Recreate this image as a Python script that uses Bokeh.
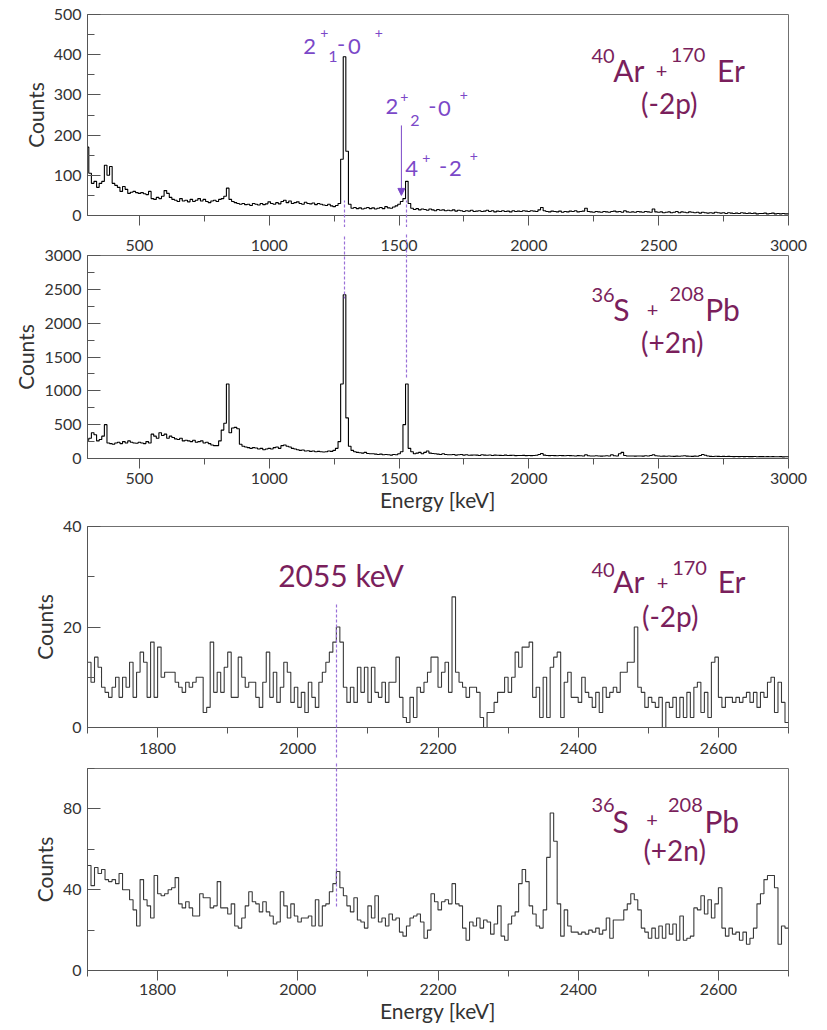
import numpy as np
from bokeh.plotting import figure
from bokeh.models import Range1d, FixedTicker, Label, Arrow, NormalHead, LinearAxis
from bokeh.layouts import column
from bokeh.embed import file_html
from bokeh.resources import INLINE

FONT = "Lato"
LEVEL_COLOR = "#7b48c8"
REACTION_COLOR = "#7a1f5c"
DASH_COLOR = "#9a70d8"
AXIS_COLOR = "#555555"
TEXT_COLOR = "#333333"
TICK_FONT = "16px"

# ---------------- data ----------------
# overview spectra: 10 keV bins, bin centres 300 ... 3000 keV
overview_first_centre = 300
overview_bin_width = 10
ar_er_overview = [
    170, 105, 80, 85, 70, 80, 85, 125, 100, 122,
    80, 75, 70, 60, 72, 65, 55, 58, 60, 57,
    55, 57, 54, 52, 60, 42, 40, 45, 42, 48,
    62, 55, 45, 40, 38, 35, 42, 36, 38, 34,
    40, 35, 38, 42, 36, 40, 35, 32, 36, 38,
    35, 40, 42, 48, 68, 40, 35, 32, 30, 28,
    30, 27, 28, 25, 30, 28, 26, 30, 27, 29,
    34, 30, 28, 32, 29, 35, 38, 32, 36, 30,
    32, 34, 30, 28, 33, 30, 29, 31, 27, 30,
    28, 26, 25, 28, 24, 22, 25, 30, 140, 395,
    160, 28, 18, 20, 17, 19, 16, 18, 20, 17,
    19, 16, 18, 20, 17, 22, 19, 18, 21, 24,
    28, 35, 42, 85, 30, 18, 15, 17, 14, 16,
    15, 13, 16, 14, 12, 15, 13, 14, 12, 13,
    12, 14, 11, 13, 12, 10, 12, 11, 13, 10,
    11, 12, 10, 11, 13, 10, 12, 9, 11, 10,
    12, 10, 11, 9, 12, 10, 11, 10, 12, 11,
    10, 12, 11, 10, 14, 20, 12, 10, 9, 11,
    10, 9, 11, 8, 10, 9, 11, 10, 12, 9,
    10, 11, 18, 10, 9, 8, 10, 9, 8, 10,
    9, 8, 10, 11, 9, 10, 8, 12, 9, 8,
    9, 8, 10, 9, 8, 10, 9, 8, 16, 9,
    8, 9, 7, 8, 9, 7, 8, 10, 7, 9,
    8, 7, 9, 8, 7, 8, 6, 8, 7, 6,
    7, 6, 8, 7, 6, 7, 5, 7, 6, 5,
    6, 5, 7, 6, 5, 6, 5, 6, 4, 5,
    5, 6, 4, 5, 6, 4, 5, 4, 5, 4,
    4,
]
s_pb_overview = [
    270, 300, 380, 350, 260, 280, 330, 500, 230, 220,
    210, 230, 240, 220, 250, 230, 260, 240, 230, 225,
    240, 230, 220, 250, 230, 360, 330, 300, 380, 340,
    360, 300, 330, 310, 290, 280, 300, 260, 270, 260,
    250, 270, 240, 250, 260, 230, 240, 220, 200, 190,
    190, 260, 420, 520, 1100, 380, 450, 460, 440, 210,
    180, 170, 160, 150, 160, 155, 140, 150, 130, 140,
    150, 140, 160, 170, 150, 190, 200, 180, 170, 150,
    140, 130, 120, 125, 110, 115, 105, 110, 100, 105,
    100, 95, 100, 110, 105, 120, 150, 250, 1100, 2420,
    600, 180, 120, 100, 90, 85, 80, 90, 75, 70,
    70, 65, 60, 65, 55, 60, 55, 50, 60, 55,
    70, 100, 500, 1100, 150, 100, 70, 80, 90, 70,
    90, 110, 80, 75, 70, 65, 60, 70, 60, 55,
    55, 60, 50, 55, 60, 50, 55, 48, 50, 52,
    50, 45, 55, 50, 48, 52, 45, 50, 48, 46,
    45, 50, 44, 46, 48, 42, 45, 44, 46, 42,
    44, 42, 45, 48, 60, 75, 50, 45, 42, 44,
    42, 40, 44, 42, 40, 45, 42, 40, 38, 42,
    40, 38, 55, 40, 38, 36, 40, 38, 35, 37,
    40, 38, 55, 40, 36, 70, 90, 45, 38, 36,
    36, 35, 38, 36, 35, 40, 38, 45, 55, 40,
    36, 34, 35, 33, 36, 34, 32, 35, 33, 36,
    40, 35, 33, 32, 35, 34, 45, 60, 48, 36,
    32, 30, 33, 31, 30, 32, 29, 31, 30, 28,
    30, 28, 29, 27, 30, 28, 27, 29, 26, 28,
    27, 26, 28, 25, 27, 26, 25, 27, 24, 26,
    25,
]

# expanded spectra: 5 keV bins, left edges 1700 ... 2695 keV
zoom_first_edge = 1700
zoom_bin_width = 5
ar_er_zoom = [
    13, 9, 14, 12, 8, 7, 6, 8, 10, 6, 10, 8, 13, 6, 11, 15, 13, 6, 17, 6,
    16, 10, 11, 11, 11, 9, 8, 7, 9, 8, 9, 10, 10, 3, 4, 17, 7, 11, 7, 12,
    15, 6, 6, 14, 10, 8, 9, 9, 6, 4, 9, 15, 6, 11, 5, 8, 13, 11, 5, 8,
    4, 7, 3, 9, 6, 4, 9, 11, 13, 15, 17, 20, 17, 8, 5, 8, 5, 12, 7, 12,
    5, 12, 7, 6, 9, 5, 9, 9, 14, 6, 2, 1, 6, 2, 8, 7, 9, 11, 14,
    14, 8, 11, 13, 7, 26, 11, 9, 8, 6,
    8, 8, 7, 2, 0, 3, 3, 5, 7, 7,
    10, 7, 10, 15, 12, 16, 16, 17, 6, 8,
    2, 10, 2, 12, 14, 15, 2, 9, 11, 6,
    6, 5, 10, 7, 6, 4, 7, 3, 8, 6,
    7, 8, 7, 11, 11, 13, 13, 20, 8, 7,
    4, 6, 5, 4, 6, 0, 5, 4, 6, 2,
    6, 2, 7, 2, 8, 9, 3, 7, 2, 13,
    14, 6, 4, 6, 6, 5, 6, 5, 6, 7,
    5, 7, 4, 7, 6, 9, 10, 3, 9, 5,
    1,
]
s_pb_zoom = [
    52, 42, 51, 48, 50, 45, 44, 45, 43, 48, 40, 40, 35, 30, 22, 45, 35, 32, 26, 47,
    38, 37, 38, 40, 41, 46, 33, 31, 34, 31, 27, 27, 38, 36, 36, 31, 32, 44, 31, 31,
    28, 33, 22, 21, 26, 32, 39, 34, 33, 29, 34, 29, 27, 23, 24, 39, 32, 26, 33, 27,
    24, 26, 26, 27, 22, 35, 22, 32, 33, 39, 43, 49, 41, 37, 32, 29, 36, 25, 24, 21,
    32, 26, 37, 24, 26, 22, 28, 25, 26, 19, 17, 22, 26, 27, 28, 24, 16, 20, 38,
    34, 30, 34, 35, 33, 43, 33, 32, 21, 15,
    24, 22, 26, 21, 25, 24, 18, 23, 32, 17,
    15, 23, 27, 29, 43, 50, 44, 32, 28, 22,
    21, 30, 56, 78, 64, 33, 17, 30, 22, 19,
    19, 18, 19, 18, 20, 19, 21, 18, 20, 26,
    16, 25, 25, 25, 30, 33, 38, 35, 30, 21,
    19, 16, 21, 16, 22, 16, 23, 18, 23, 15,
    27, 15, 16, 17, 31, 30, 37, 28, 35, 26,
    33, 41, 21, 17, 21, 18, 19, 15, 19, 13,
    16, 21, 33, 38, 45, 47, 47, 41, 13, 22,
    21,
]

# axis ticks
overview_x_ticks = [500, 1000, 1500, 2000, 2500, 3000]
overview_x_minor = [750, 1250, 1750, 2250, 2750]
ar_er_overview_y_ticks = [0, 100, 200, 300, 400, 500]
ar_er_overview_y_minor = [50, 150, 250, 350, 450]
s_pb_overview_y_ticks = [0, 500, 1000, 1500, 2000, 2500, 3000]
s_pb_overview_y_minor = [250, 750, 1250, 1750, 2250, 2750]
zoom_x_ticks = [1800, 2000, 2200, 2400, 2600]
zoom_x_minor = [1700, 1900, 2100, 2300, 2500, 2700]
ar_er_zoom_y_ticks = [0, 20, 40]
ar_er_zoom_y_minor = [10, 30]
s_pb_zoom_y_ticks = [0, 40, 80]
s_pb_zoom_y_minor = [20, 60, 100]

# transition energies (keV)
gamma_2plus1 = 1290
gamma_4plus = 1530
gamma_2plus2 = 1509
gamma_2055 = 2055


# ---------------- helpers ----------------
def make_fig(xr, yr, width, height, left, right, top, bottom,
             xlabel=None, show_x_labels=True, x_label_standoff=4):
    p = figure(width=width, height=height, x_range=Range1d(*xr), y_range=Range1d(*yr),
               output_backend="svg", toolbar_location=None,
               min_border_left=left, min_border_right=right,
               min_border_top=top, min_border_bottom=bottom)
    p.grid.visible = False
    p.outline_line_color = "#707070"
    p.outline_line_width = 1
    p.background_fill_color = "white"
    p.border_fill_color = "white"
    for ax in (p.xaxis[0], p.yaxis[0]):
        ax.axis_line_color = AXIS_COLOR
        ax.major_tick_line_color = AXIS_COLOR
        ax.minor_tick_line_color = AXIS_COLOR
        ax.major_label_text_font = FONT
        ax.major_label_text_font_size = TICK_FONT
        ax.major_label_text_color = TEXT_COLOR
        ax.axis_label_text_font = FONT
        ax.axis_label_text_font_style = "normal"
        ax.axis_label_text_font_size = "21px"
        ax.axis_label_text_color = TEXT_COLOR
    xa = p.xaxis[0]
    xa.major_tick_in = 0
    xa.major_tick_out = 10
    xa.minor_tick_in = 0
    xa.minor_tick_out = 6
    xa.major_label_standoff = x_label_standoff
    if not show_x_labels:
        xa.major_label_text_font_size = "0px"
        xa.major_label_text_alpha = 0
        xa.major_label_standoff = 0
    if xlabel:
        xa.axis_label = xlabel
        xa.axis_label_standoff = 0
    ya = p.yaxis[0]
    ya.major_tick_in = 13
    ya.major_tick_out = 0
    ya.minor_tick_in = 7
    ya.minor_tick_out = 0
    ya.major_label_standoff = 6
    ya.axis_label = "Counts"
    ya.axis_label_standoff = 3
    return p


def set_ticks(p, xt, xm, yt, ym):
    p.xaxis[0].ticker = FixedTicker(ticks=xt, minor_ticks=xm)
    p.yaxis[0].ticker = FixedTicker(ticks=yt, minor_ticks=ym)


def add_texts(p, items, color):
    for x, y, txt, size in items:
        p.add_layout(Label(x=x, y=y, text=txt, text_font=FONT,
                           text_font_size=f"{size}px", text_color=color,
                           text_align="left", text_baseline="middle"))


def marker_axis(p, side, energies, tick_in, tick_out):
    """An unlabelled axis whose dashed ticks mark transition energies
    (axes are not clipped to the frame, so the marks can cross the gaps)."""
    ax = LinearAxis(ticker=FixedTicker(ticks=energies, minor_ticks=[]))
    ax.axis_line_color = None
    ax.minor_tick_line_color = None
    ax.major_tick_line_color = DASH_COLOR
    ax.major_tick_line_width = 1.2
    ax.major_tick_line_dash = "3 2"
    ax.major_tick_in = tick_in
    ax.major_tick_out = tick_out
    ax.major_label_standoff = 0
    ax.major_label_text_font_size = "0px"
    ax.major_label_text_alpha = 0
    p.add_layout(ax, side)


def label_axis(p, side, ticks, standoff):
    """Tick labels only (used to show the upper panel's energy labels)."""
    ax = LinearAxis(ticker=FixedTicker(ticks=ticks, minor_ticks=[]))
    ax.axis_line_color = None
    ax.major_tick_line_color = None
    ax.minor_tick_line_color = None
    ax.major_tick_in = 0
    ax.major_tick_out = 0
    ax.major_label_standoff = standoff
    ax.major_label_text_font = FONT
    ax.major_label_text_font_size = TICK_FONT
    ax.major_label_text_color = TEXT_COLOR
    p.add_layout(ax, side)


def overview_edges(values):
    n = len(values)
    edges = overview_first_centre - overview_bin_width / 2 + overview_bin_width * np.arange(n + 1)
    return edges, list(values) + [values[-1]]


def zoom_edges(values):
    n = len(values)
    edges = zoom_first_edge + zoom_bin_width * np.arange(n + 1)
    return edges, list(values) + [values[-1]]


# ---------------- panel 1: 40Ar + 170Er overview ----------------
p1 = make_fig((300, 3000), (0, 500), 822, 227, 87, 27, 14, 12, show_x_labels=False)
set_ticks(p1, overview_x_ticks, overview_x_minor, ar_er_overview_y_ticks, ar_er_overview_y_minor)
x, y = overview_edges(ar_er_overview)
p1.step(x, y, mode="after", line_color="black", line_width=1.1)
marker_axis(p1, "below", [gamma_2plus1, gamma_4plus], 25, 2)
p1.add_layout(Arrow(end=NormalHead(size=7, fill_color=LEVEL_COLOR, line_color=LEVEL_COLOR),
                    x_start=gamma_2plus2, y_start=224, x_end=gamma_2plus2, y_end=50,
                    line_color=LEVEL_COLOR, line_width=1))
add_texts(p1, [
    (1131, 421.6, "2", 22), (1196, 454, "+", 14), (1227, 395.5, "1", 16),
    (1261, 425, "-", 22), (1303, 421.6, "0", 22), (1406, 454, "+", 14),
    (1448, 271, "2", 22), (1505, 295, "+", 14), (1543, 236, "2", 16),
    (1612, 271, "-", 22), (1650, 267, "0", 22), (1734, 300, "+", 14),
    (1524, 118, "4", 22), (1589, 142, "+", 14), (1654, 121, "-", 22),
    (1692, 118, "2", 22), (1772, 147, "+", 14),
], LEVEL_COLOR)
add_texts(p1, [
    (2241, 398, "40", 20), (2325, 363, "Ar", 30), (2489, 359, "+", 20),
    (2546, 399, "170", 20), (2725, 363, "Er", 30), (2432, 281, "(-2p)", 28),
], REACTION_COLOR)

# ---------------- panel 2: 36S + 208Pb overview ----------------
p2 = make_fig((300, 3000), (0, 3000), 822, 289, 87, 27, 28, 58, xlabel="Energy [keV]")
set_ticks(p2, overview_x_ticks, overview_x_minor, s_pb_overview_y_ticks, s_pb_overview_y_minor)
x, y = overview_edges(s_pb_overview)
p2.step(x, y, mode="after", line_color="black", line_width=1.1)
label_axis(p2, "above", overview_x_ticks, 5)          # energy labels of the upper panel
marker_axis(p2, "above", [gamma_2plus1], 62, 0)
marker_axis(p2, "above", [gamma_4plus], 142, 2)
add_texts(p2, [
    (2241, 2409, "36", 20), (2325, 2202, "S", 30), (2454, 2190, "+", 20),
    (2542, 2431, "208", 20), (2679, 2202, "Pb", 30), (2432, 1722, "(+2n)", 28),
], REACTION_COLOR)

# ---------------- panel 3: 40Ar + 170Er expanded ----------------
p3 = make_fig((1700, 2700), (0, 40), 822, 247, 80, 34, 10, 36, x_label_standoff=5)
set_ticks(p3, zoom_x_ticks, zoom_x_minor, ar_er_zoom_y_ticks, ar_er_zoom_y_minor)
x, y = zoom_edges(ar_er_zoom)
p3.step(x, y, mode="after", line_color="#3a3a3a", line_width=1.1)
marker_axis(p3, "below", [gamma_2055], 154, 1)
add_texts(p3, [
    (1972, 30.4, "2055 keV", 30),
    (2419, 31.3, "40", 20), (2450, 29.1, "Ar", 30), (2512, 28.8, "+", 20),
    (2534, 31.7, "170", 20), (2599, 29.1, "Er", 30), (2491, 22.2, "(-2p)", 28),
], REACTION_COLOR)

# ---------------- panel 4: 36S + 208Pb expanded ----------------
p4 = make_fig((1700, 2700), (0, 100), 822, 265, 80, 34, 5, 58, xlabel="Energy [keV]", x_label_standoff=3)
set_ticks(p4, zoom_x_ticks, zoom_x_minor, s_pb_zoom_y_ticks, s_pb_zoom_y_minor)
x, y = zoom_edges(s_pb_zoom)
p4.step(x, y, mode="after", line_color="#3a3a3a", line_width=1.1)
marker_axis(p4, "above", [gamma_2055], 140, 5)
add_texts(p4, [
    (2419, 81.7, "36", 20), (2449, 73.8, "S", 30), (2497, 74.3, "+", 20),
    (2528, 81.9, "208", 20), (2580, 73.8, "Pb", 30), (2493, 59.7, "(+2n)", 28),
], REACTION_COLOR)

layout = column(p1, p2, p3, p4, spacing=0)
open("out.html", "w").write(file_html(layout, INLINE))
